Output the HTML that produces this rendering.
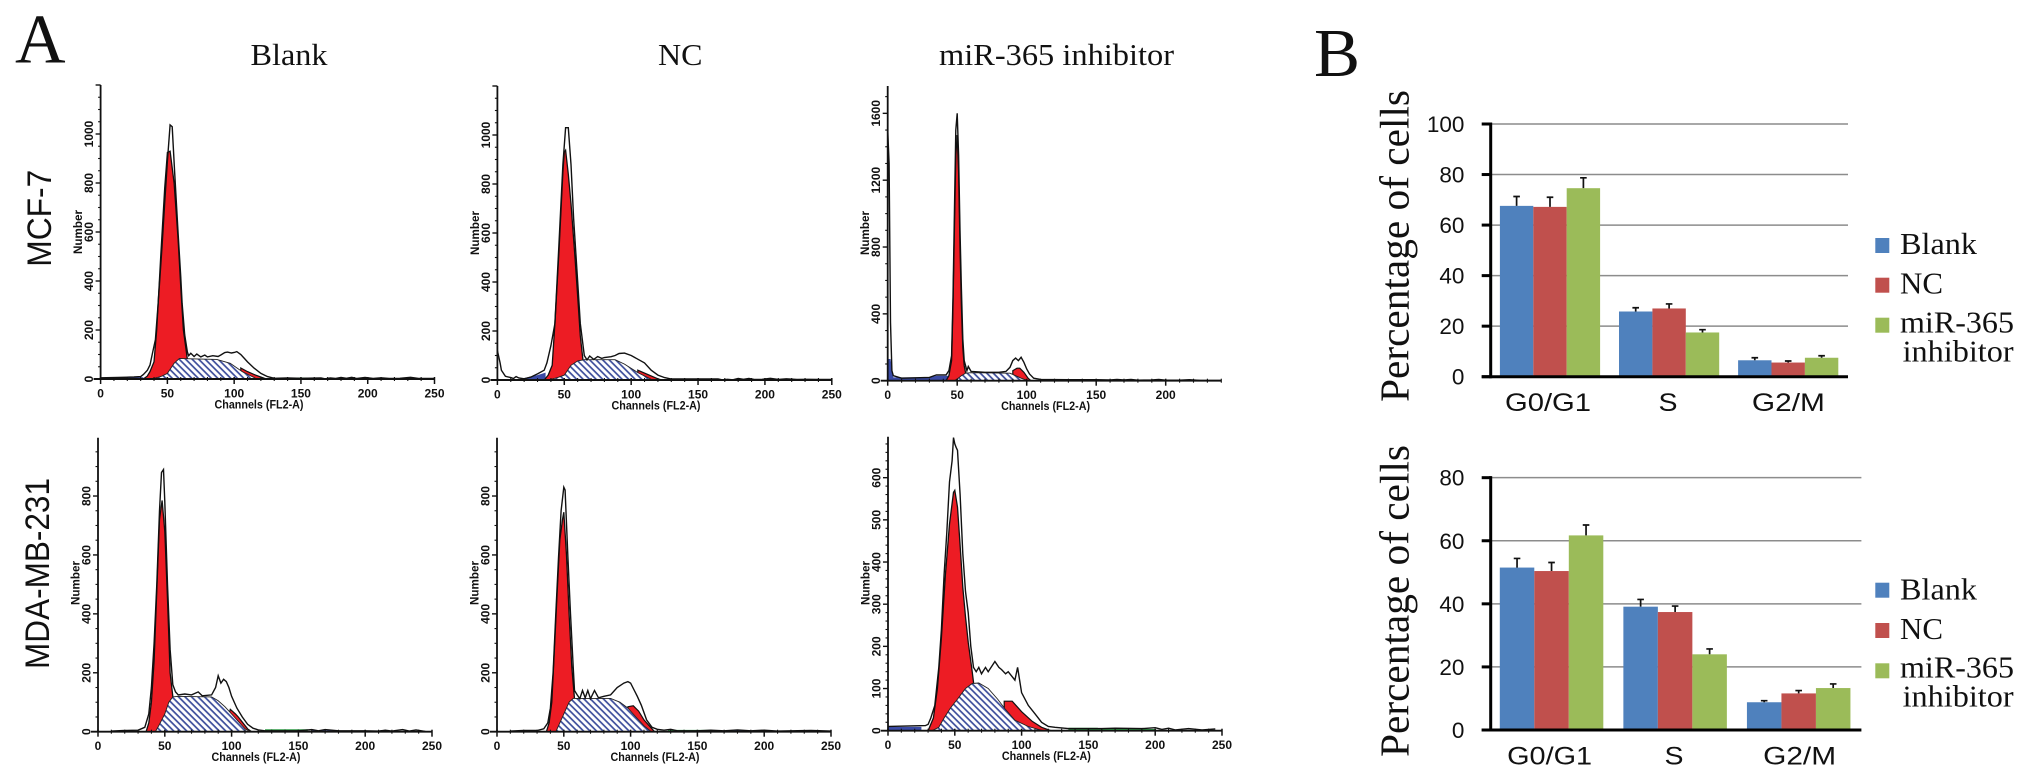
<!DOCTYPE html>
<html lang="en">
<head>
<meta charset="utf-8">
<title>Cell cycle distribution</title>
<style>
html,body{margin:0;padding:0;background:#fff;width:2031px;height:781px;overflow:hidden}
svg{display:block}
text{fill:#111}
.serif{font-family:"Liberation Serif",serif}
.sans{font-family:"Liberation Sans",sans-serif}
.hist{font-family:"Liberation Sans",sans-serif;font-weight:bold;font-size:12px}
</style>
</head>
<body>
<svg id="figure" xmlns="http://www.w3.org/2000/svg" width="2031" height="781" viewBox="0 0 2031 781">
<defs>
<pattern id="hatch" patternUnits="userSpaceOnUse" width="4.6" height="4.6" patternTransform="rotate(-45)">
<rect width="4.6" height="4.6" fill="#fff"/>
<line x1="1.5" y1="0" x2="1.5" y2="4.6" stroke="#3c4d9b" stroke-width="1.7"/>
</pattern>
</defs>
<text class="serif" x="15" y="62.5" font-size="70">A</text>
<text class="serif" x="1314" y="76" font-size="69">B</text>
<text class="serif" x="250.5" y="65" font-size="31" textLength="77" lengthAdjust="spacingAndGlyphs">Blank</text>
<text class="serif" x="658" y="65" font-size="31" textLength="44.5" lengthAdjust="spacingAndGlyphs">NC</text>
<text class="serif" x="939" y="65" font-size="31" textLength="235" lengthAdjust="spacingAndGlyphs">miR-365 inhibitor</text>
<text class="sans" transform="translate(51,266.7) rotate(-90)" font-size="34" textLength="97" lengthAdjust="spacingAndGlyphs">MCF-7</text>
<text class="sans" transform="translate(49,669) rotate(-90)" font-size="34" textLength="191" lengthAdjust="spacingAndGlyphs">MDA-MB-231</text>
<text class="serif" transform="translate(1408.5,402) rotate(-90)" font-size="41" textLength="312" lengthAdjust="spacingAndGlyphs">Percentage of cells</text>
<text class="serif" transform="translate(1408.5,757) rotate(-90)" font-size="41" textLength="312" lengthAdjust="spacingAndGlyphs">Percentage of cells</text>
<g id="histograms"></g>
<g id="barcharts"></g>
</svg>
<script>
// ---------- Histogram data: [channel, count] ----------
const mcfBlankOutline = [[0,5],[13,6],[25,8],[30,10],[32,18],[35,35],[37,57],[39,110],[41,160],[43,300],[46,540],[48,720],[50,890],[52,1037],[53.6,1030],[55.5,840],[58,595],[60,420],[61,310],[63,180],[65,110],[66,95],[67.5,105],[70,92],[72,102],[75,90],[78,98],[80,90],[84,95],[88,92],[90,98],[93,108],[95,110],[98,106],[100,108],[102,112],[105,100],[108,82],[110,70],[115,44],[120,23],[125,10],[130,3],[140,4],[150,3],[165,4],[168,1],[172,4],[176,2],[180,6],[184,3],[188,7],[192,2],[198,6],[204,2],[210,5],[216,2],[224,3],[232,7],[238,2],[250,2]];
const mcfBlankG1 = [[32,0],[35,12],[37,30],[40,70],[42,200],[45,500],[48,780],[50,925],[52,930],[55,800],[58,570],[60,380],[62,200],[65,80]];
const mcfBlankS = [[38,0],[45,10],[50,23],[55,64],[59,84],[64,83],[87,80],[97,64],[106,30],[116,3],[118,0]];
const mcfBlankG2 = [[105,45],[110,30],[116,16],[122,4],[124,0]];
const mcfBlankDebris = [[13,0],[13,7],[32,7],[32,0]];
const mcfBlankAggregates = [[133,0],[133,6],[165,6],[165,0]];

const mcfNcOutline = [[0,120],[2,70],[3,40],[6,15],[10,10],[12,6],[14,14],[16,8],[20,5],[25,12],[30,25],[35,40],[37,70],[40,140],[43,230],[46,550],[49,880],[51,1030],[53,1030],[55,880],[57,660],[60,400],[62,230],[65,100],[67,82],[69,98],[72,84],[75,96],[78,88],[80,92],[85,95],[88,100],[91,108],[95,110],[100,100],[105,85],[110,70],[115,40],[120,20],[125,10],[130,4],[150,4],[165,4],[168,1],[172,3],[176,1],[180,6],[184,3],[188,6],[192,2],[198,3],[204,7],[210,2],[216,5],[224,2],[232,3],[240,2],[250,2]];
const mcfNcG1 = [[35,0],[38,20],[41,60],[43,230],[46,520],[49,850],[50,930],[51,938],[53,840],[55,720],[58,500],[60,340],[62,180],[64,80]];
const mcfNcS = [[38,0],[45,10],[50,20],[55,60],[60,78],[65,83],[88,83],[95,65],[105,30],[115,3],[117,0]];
const mcfNcG2 = [[105,40],[110,28],[116,14],[120,5],[123,0]];
const mcfNcDebris = [[20,0],[20,8],[30,20],[36,30],[36,0]];
const mcfNcAggregates = [[130,0],[130,5],[163,5],[163,0]];

const mcfInhOutline = [[0,1500],[1,1300],[2,350],[3,60],[4,30],[10,15],[30,20],[35,35],[42,35],[44,60],[46,150],[47,500],[48,1000],[49,1500],[50,1600],[51,1350],[52,900],[53,550],[54,250],[55,120],[57,60],[58,85],[60,55],[70,50],[80,50],[85,55],[88,80],[90,120],[92,135],[94,120],[96,140],[98,110],[100,70],[102,40],[105,15],[110,8],[130,6],[150,6],[160,5],[165,8],[170,4],[175,8],[180,3],[190,4],[195,8],[200,3],[210,3],[217,6],[225,2],[240,2]];
const mcfInhG1 = [[42,0],[44,30],[46,120],[47,450],[48,900],[49,1350],[50,1470],[51,1250],[52,800],[53,450],[54,200],[55,90],[56,50]];
const mcfInhS = [[48,0],[50,10],[53,30],[56,45],[60,48],[88,45],[92,30],[96,15],[100,3],[101,0]];
const mcfInhG2 = [[90,60],[93,75],[95,75],[98,50],[101,15],[103,0]];
const mcfInhDebris = [[0,0],[0,130],[2,130],[4,20],[30,20],[35,30],[45,30],[45,0]];
const mcfInhAggregates = [[108,0],[108,6],[180,6],[180,0]];

const mdaBlankOutline = [[10,2],[20,4],[30,5],[35,15],[38,60],[40,150],[42,300],[44,500],[46,750],[47.5,880],[49,890],[50,780],[52,500],[54,280],[56,160],[58,135],[60,125],[65,128],[70,125],[75,135],[78,122],[85,125],[88,150],[90,190],[92,165],[94,178],[96,170],[98,150],[100,120],[104,80],[108,50],[112,25],[116,12],[120,6],[125,3],[150,3],[160,7],[165,3],[170,7],[180,3],[200,3],[210,2],[215,5],[220,2],[228,7],[233,2],[238,6],[245,1]];
const mdaBlankG1 = [[36,0],[38,30],[40,100],[42,240],[44,480],[46,720],[48,785],[50,680],[52,450],[54,200],[56,120]];
const mdaBlankS = [[43,0],[46,25],[50,60],[53,100],[56,118],[60,120],[85,118],[90,105],[95,85],[100,60],[105,35],[110,10],[114,0]];
const mdaBlankG2 = [[98,60],[99,76],[103,60],[105,50],[112,10],[115,0]];
const mdaBlankAggregates = [[125,0],[125,8],[157,8],[157,0]];
const mdaBlankDebris = [[160,0],[160,4],[208,4],[208,0]];

const mdaNcOutline = [[10,2],[20,4],[30,4],[35,10],[38,30],[40,80],[42,200],[44,400],[46,590],[48,750],[50,830],[51,820],[53,600],[55,400],[57,220],[58,140],[60,125],[62,112],[64,140],[66,115],[68,140],[70,112],[73,140],[76,115],[80,120],[85,125],[90,150],[95,165],[98,170],[100,165],[105,120],[108,90],[112,40],[116,15],[120,8],[125,5],[130,8],[135,3],[150,3],[160,5],[170,3],[180,6],[190,3],[200,5],[210,2],[220,3],[235,4],[250,2]];
const mdaNcG1 = [[37,0],[39,30],[41,100],[43,280],[45,470],[47,650],[49,720],[50,745],[52,600],[54,400],[56,220],[58,112]];
const mdaNcS = [[44,0],[46,20],[50,60],[54,100],[57,113],[60,113],[85,113],[92,100],[98,80],[104,50],[110,20],[115,2],[116,0]];
const mdaNcG2 = [[98,85],[102,88],[106,70],[110,40],[115,15],[118,0]];
const mdaNcAggregates = [[128,0],[128,6],[160,6],[160,0]];
const mdaNcDebris = [[160,0],[160,4],[205,4],[205,0]];

const mdaInhOutline = [[0,10],[28,12],[30,15],[32,30],[35,60],[38,150],[40,240],[42,370],[44,470],[46,590],[48,640],[49,695],[50,680],[51,672],[52,665],[54,560],[56,420],[58,330],[60,280],[62,200],[64,150],[66,140],[68,150],[70,135],[73,150],[75,140],[80,164],[83,150],[85,145],[88,135],[90,140],[95,120],[97,150],[100,90],[105,60],[110,40],[115,20],[120,10],[125,8],[135,5],[160,5],[170,6],[190,5],[200,7],[205,3],[210,6],[215,2],[225,5],[235,2],[245,4]];
const mdaInhG1 = [[30,0],[34,30],[37,100],[40,220],[43,370],[46,490],[49,565],[50,570],[52,530],[54,440],[56,340],[58,270],[60,210],[63,140],[64,115]];
const mdaInhS = [[33,0],[38,8],[42,30],[47,55],[52,75],[58,100],[63,112],[68,113],[75,100],[82,75],[88,50],[95,25],[105,10],[115,1],[116,0]];
const mdaInhG2 = [[87,70],[93,70],[100,45],[108,22],[115,8],[122,0]];
const mdaInhDebris = [[0,0],[0,9],[25,9],[25,0]];
const mdaInhAggregates = [[135,0],[135,7],[157,7],[157,4],[200,4],[200,0]];

const channelTicks = [0,50,100,150,200,250];
const channelTicksShort = [0,50,100,150,200];
const countTicks1000 = [0,200,400,600,800,1000];
const countTicks1600 = [0,400,800,1200,1600];
const countTicks800 = [0,200,400,600,800];
const countTicks600 = [0,100,200,300,400,500,600];

// ---------- Bar chart data ----------
const phaseCategories = ['G0/G1','S','G2/M'];
const seriesNames = ['Blank','NC','miR-365 inhibitor'];
const mcfBlankPct = [67.6,25.8,6.5];
const mcfNcPct = [67.2,27.0,5.6];
const mcfInhPct = [74.6,17.5,7.5];
const mcfBlankErr = [3.7,1.5,1.0];
const mcfNcErr = [3.8,1.8,0.6];
const mcfInhErr = [4.1,1.1,0.8];
const mdaBlankPct = [51.5,39.1,8.8];
const mdaNcPct = [50.4,37.4,11.6];
const mdaInhPct = [61.7,24.0,13.3];
const mdaBlankErr = [2.9,2.3,0.5];
const mdaNcErr = [2.7,1.9,0.9];
const mdaInhErr = [3.3,1.7,1.3];
const pctTicksTop = [0,20,40,60,80,100];
const pctTicksBottom = [0,20,40,60,80];

// ---------- Drawing helpers ----------
const NS = 'http://www.w3.org/2000/svg';
function mk(parent, tag, attrs, txt){
  const el = document.createElementNS(NS, tag);
  for (const k in attrs) el.setAttribute(k, attrs[k]);
  if (txt !== undefined) el.textContent = txt;
  parent.appendChild(el);
  return el;
}

function drawHistogram(name, box, s){
  const root = document.getElementById('histograms');
  const g = mk(root, 'g', {});
  
  
  const px = c => box.x0 + c * box.xPerCh;
  const py = v => box.y0 - v * box.yPerCount;
  const line = pts => pts.map(p => px(p[0]).toFixed(1) + ',' + py(p[1]).toFixed(1)).join(' ');
  const closed = pts => px(pts[0][0]).toFixed(1) + ',' + box.y0 + ' ' + line(pts) + ' ' + px(pts[pts.length-1][0]).toFixed(1) + ',' + box.y0;

  const debris = mk(g, 'polygon', {points: line(s.debris), fill: '#3a4aa5'});
  
  
  const agg = mk(g, 'polygon', {points: line(s.aggregates), fill: '#2f9a45'});
  
  
  const g1 = mk(g, 'polygon', {points: closed(s.g1), fill: '#ed1c24', stroke: '#111', 'stroke-width': 1.3});
  
  
  const g2 = mk(g, 'polygon', {points: closed(s.g2), fill: '#ed1c24', stroke: '#111', 'stroke-width': 1.2});
  
  
  const sp = mk(g, 'polygon', {points: closed(s.s), fill: 'url(#hatch)', stroke: '#222', 'stroke-width': 0.9});
  
  
  const out = mk(g, 'polyline', {points: line(s.outline), fill: 'none', stroke: '#111', 'stroke-width': 1.4});
  
  

  // axes
  const yAxis = mk(g, 'line', {x1: box.x0, y1: box.y0, x2: box.x0, y2: box.top, stroke: '#111', 'stroke-width': 1.8});
  
  
  const xAxis = mk(g, 'line', {x1: box.x0 - 7, y1: box.y0, x2: px(box.chMax), y2: box.y0, stroke: '#111', 'stroke-width': 1.9});
  
  

  for (let c = 0; c <= box.chMax; c += 10){
    const major = c % 50 === 0;
    mk(g, 'line', {x1: px(c), y1: box.y0 - 2, x2: px(c), y2: box.y0 + (major ? 5 : 2), stroke: '#111', 'stroke-width': major ? 1.5 : 1.1});
  }
  s.xTicks.forEach(c => {
    const t = mk(g, 'text', {x: px(c), y: box.y0 + 18.5, 'text-anchor': 'middle', class: 'hist'}, c);
    
    
  });
  const maxCount = (box.y0 - box.top) / box.yPerCount;
  for (let v = 0; v <= maxCount; v += box.minorStep){
    const major = v % box.majorStep === 0;
    mk(g, 'line', {x1: box.x0 - (major ? 5 : 2.5), y1: py(v), x2: box.x0, y2: py(v), stroke: '#111', 'stroke-width': major ? 1.4 : 1.1});
  }
  s.yTicks.forEach(v => {
    const t = mk(g, 'text', {transform: 'translate(' + (box.x0 - 7.6) + ',' + py(v) + ') rotate(-90)', 'text-anchor': 'middle', class: 'hist'}, v);
    
    
  });
  const yt = mk(g, 'text', {transform: 'translate(' + (box.x0 - 18.5) + ',' + box.titleY + ') rotate(-90)', 'text-anchor': 'middle', class: 'hist', textLength: 44, lengthAdjust: 'spacingAndGlyphs'}, 'Number');
  
  
  const xt = mk(g, 'text', {x: box.titleX, y: box.y0 + 29.5, 'text-anchor': 'middle', class: 'hist', textLength: 89, lengthAdjust: 'spacingAndGlyphs'}, 'Channels (FL2-A)');
  
  
}

function drawBars(name, box, cats, vals, errs, ticks, legendBox){
  const root = document.getElementById('barcharts');
  const g = mk(root, 'g', {});
  
  
  const colors = ['#4f81bd','#c0504d','#9bbb59'];
  const py = v => box.y0 - v * box.yPerUnit;
  ticks.forEach(v => {
    if (v !== 0){
      const gl = mk(g, 'line', {x1: box.x0, y1: py(v), x2: box.x1, y2: py(v), stroke: '#8c8c8c', 'stroke-width': 1.5});
      
      
    }
    mk(g, 'line', {x1: box.x0 - 9, y1: py(v), x2: box.x0, y2: py(v), stroke: '#000', 'stroke-width': 3});
    const t = mk(g, 'text', {x: box.x0 - 26.3, y: py(v) + 8, 'text-anchor': 'end', class: 'sans', 'font-size': 22.5}, v);
    
    
  });
  const band = (box.x1 - box.x0) / cats.length;
  cats.forEach((cat, i) => {
    vals.forEach((series, j) => {
      const x = box.x0 + band * i + box.barOffset + j * box.barWidth;
      const r = mk(g, 'rect', {x: x, y: py(series[i]), width: box.barWidth, height: box.y0 - py(series[i]), fill: colors[j]});
      
      
      const cx = x + box.barWidth / 2;
      const e = mk(g, 'path', {d: 'M' + cx + ' ' + py(series[i]) + 'V' + py(series[i] + errs[j][i]) + 'm-3.3 0h6.6', stroke: '#111', 'stroke-width': 1.7, fill: 'none'});
      
      
    });
    const c = mk(g, 'text', {x: box.labelX[i], y: box.y0 + box.labelDy, 'text-anchor': 'middle', class: 'sans', 'font-size': 25, textLength: box.labelW[i], lengthAdjust: 'spacingAndGlyphs'}, cat);
    
    
  });
  const ya = mk(g, 'line', {x1: box.x0, y1: py(ticks[ticks.length-1]) - 1.5, x2: box.x0, y2: box.y0 + 1.5, stroke: '#000', 'stroke-width': 3});
  
  
  const xa = mk(g, 'line', {x1: box.x0 - 9, y1: box.y0, x2: box.x1, y2: box.y0, stroke: '#000', 'stroke-width': 3});
  
  

  seriesNames.forEach((nm, j) => {
    const sw = mk(g, 'rect', {x: 1875.3, y: legendBox.swatchY[j], width: 14, height: 15, fill: colors[j]});
    
    
  });
  const l0 = mk(g, 'text', {x: 1900, y: legendBox.base[0], class: 'serif', 'font-size': 31, textLength: 77, lengthAdjust: 'spacingAndGlyphs'}, 'Blank');
  
  
  const l1 = mk(g, 'text', {x: 1900, y: legendBox.base[1], class: 'serif', 'font-size': 31, textLength: 43, lengthAdjust: 'spacingAndGlyphs'}, 'NC');
  
  
  const l2 = mk(g, 'text', {x: 1900, y: legendBox.base[2], class: 'serif', 'font-size': 31, textLength: 114, lengthAdjust: 'spacingAndGlyphs'}, 'miR-365');
  
  
  const l3 = mk(g, 'text', {x: 1902.6, y: legendBox.base[3], class: 'serif', 'font-size': 31, textLength: 111, lengthAdjust: 'spacingAndGlyphs'}, 'inhibitor');
  
  
}

// ---------- Render ----------
drawHistogram('histogram-mcf7-blank',
  {x0:100.6,xPerCh:1.3356,y0:379,yPerCount:0.245,top:85,chMax:250,minorStep:50,majorStep:200,titleX:259,titleY:232},
  {outline:mcfBlankOutline,g1:mcfBlankG1,s:mcfBlankS,g2:mcfBlankG2,debris:mcfBlankDebris,aggregates:mcfBlankAggregates,xTicks:channelTicks,yTicks:countTicks1000});
drawHistogram('histogram-mcf7-nc',
  {x0:497.4,xPerCh:1.3376,y0:380,yPerCount:0.245,top:86,chMax:250,minorStep:50,majorStep:200,titleX:656,titleY:233},
  {outline:mcfNcOutline,g1:mcfNcG1,s:mcfNcS,g2:mcfNcG2,debris:mcfNcDebris,aggregates:mcfNcAggregates,xTicks:channelTicks,yTicks:countTicks1000});
drawHistogram('histogram-mcf7-inhibitor',
  {x0:887.7,xPerCh:1.39,y0:380.7,yPerCount:0.1671,top:86,chMax:240,minorStep:100,majorStep:400,titleX:1045.6,titleY:233},
  {outline:mcfInhOutline,g1:mcfInhG1,s:mcfInhS,g2:mcfInhG2,debris:mcfInhDebris,aggregates:mcfInhAggregates,xTicks:channelTicksShort,yTicks:countTicks1600});
drawHistogram('histogram-mda-blank',
  {x0:98,xPerCh:1.336,y0:731.7,yPerCount:0.2946,top:437.7,chMax:250,minorStep:50,majorStep:200,titleX:256,titleY:583},
  {outline:mdaBlankOutline,g1:mdaBlankG1,s:mdaBlankS,g2:mdaBlankG2,debris:mdaBlankDebris,aggregates:mdaBlankAggregates,xTicks:channelTicks,yTicks:countTicks800});
drawHistogram('histogram-mda-nc',
  {x0:497,xPerCh:1.336,y0:731.7,yPerCount:0.2946,top:437.7,chMax:250,minorStep:50,majorStep:200,titleX:655,titleY:583},
  {outline:mdaNcOutline,g1:mdaNcG1,s:mdaNcS,g2:mdaNcG2,debris:mdaNcDebris,aggregates:mdaNcAggregates,xTicks:channelTicks,yTicks:countTicks800});
drawHistogram('histogram-mda-inhibitor',
  {x0:888,xPerCh:1.336,y0:730.7,yPerCount:0.4217,top:436.7,chMax:250,minorStep:20,majorStep:100,titleX:1046.4,titleY:583},
  {outline:mdaInhOutline,g1:mdaInhG1,s:mdaInhS,g2:mdaInhG2,debris:mdaInhDebris,aggregates:mdaInhAggregates,xTicks:channelTicks,yTicks:countTicks600});

drawBars('bar-chart-mcf7',
  {x0:1490.7,x1:1848,y0:376.7,yPerUnit:2.527,barOffset:9.2,barWidth:33.4,labelDy:34.5,labelX:[1548,1668,1788.4],labelW:[86,19,73]},
  phaseCategories,[mcfBlankPct,mcfNcPct,mcfInhPct],[mcfBlankErr,mcfNcErr,mcfInhErr],pctTicksTop,
  {swatchY:[238,277.7,317.7],base:[254,293.3,332.3,361.7]});
drawBars('bar-chart-mda-mb-231',
  {x0:1490.7,x1:1861.4,y0:730,yPerUnit:3.154,barOffset:9.1,barWidth:34.5,labelDy:34.5,labelX:[1549.6,1674,1799.6],labelW:[85,19,73]},
  phaseCategories,[mdaBlankPct,mdaNcPct,mdaInhPct],[mdaBlankErr,mdaNcErr,mdaInhErr],pctTicksBottom,
  {swatchY:[582.7,623,663.3],base:[599.3,639,677.3,706.7]});
</script>
</body>
</html>
